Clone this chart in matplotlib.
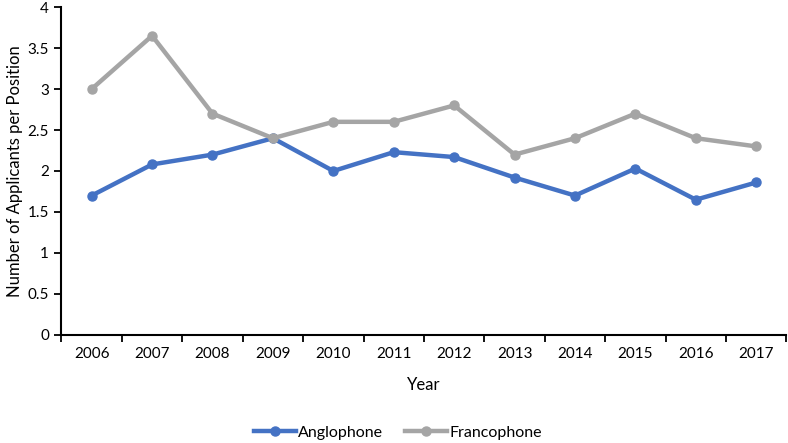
import numpy as np
import matplotlib
matplotlib.use('Agg')
import matplotlib.pyplot as plt
from matplotlib.ticker import FixedLocator

years = ['2006', '2007', '2008', '2009', '2010', '2011', '2012', '2013', '2014', '2015', '2016', '2017']
anglophone = [1.7, 2.08, 2.2, 2.4, 2.0, 2.23, 2.17, 1.92, 1.7, 2.03, 1.65, 1.86]
francophone = [3.0, 3.65, 2.7, 2.4, 2.6, 2.6, 2.8, 2.2, 2.4, 2.7, 2.4, 2.3]

plt.rcParams['font.family'] = ['Lato', 'DejaVu Sans']

fig = plt.figure(figsize=(7.88, 4.43), dpi=100)
ax = fig.add_axes([0.078, 0.244, 0.92, 0.74])

x = np.arange(len(years))
ax.plot(x, anglophone, color='#4472C4', lw=3.2, marker='o', ms=6.5, label='Anglophone')
ax.plot(x, francophone, color='#A5A5A5', lw=3.2, marker='o', ms=6.5, label='Francophone')

ax.set_xlim(-0.5, len(years) - 0.5)
ax.set_ylim(0, 4)
ax.set_yticks(np.arange(0, 4.01, 0.5))
ax.set_yticklabels(['0', '0.5', '1', '1.5', '2', '2.5', '3', '3.5', '4'], fontsize=11)
ax.set_xticks(x)
ax.set_xticklabels(years, fontsize=11)
ax.xaxis.set_minor_locator(FixedLocator(np.arange(-0.5, len(years), 1)))
ax.tick_params(axis='x', which='major', length=0, pad=9)
ax.tick_params(axis='x', which='minor', length=5, width=1.3, direction='out')
ax.tick_params(axis='y', length=5, width=1.3, direction='out', pad=4)

for s in ['top', 'right']:
    ax.spines[s].set_visible(False)
for s in ['left', 'bottom']:
    ax.spines[s].set_linewidth(1.5)

ax.set_xlabel('Year', fontsize=12, labelpad=11)
ax.set_ylabel('Number of Applicants per Position', fontsize=12, labelpad=3)

fig.legend(loc='lower center', ncol=2, frameon=False, fontsize=11.5,
           bbox_to_anchor=(0.505, -0.025), handlelength=2.6, columnspacing=1.4, handletextpad=0.15)

fig.savefig('out.png', dpi=100)
